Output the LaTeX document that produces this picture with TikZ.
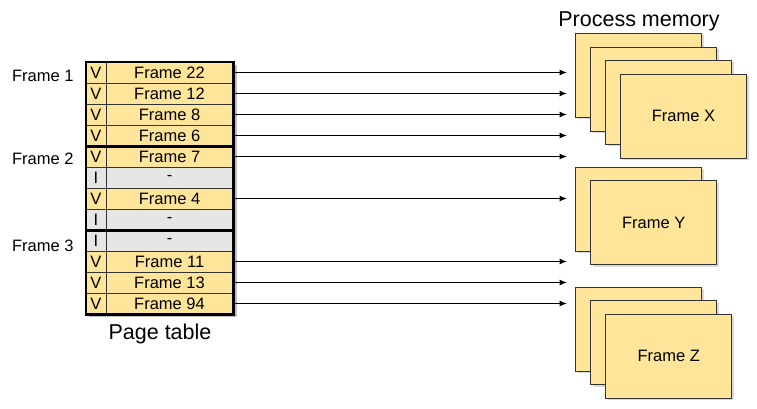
\documentclass[tikz,border=0pt]{standalone}
\usepackage{fontspec}
\setmainfont{Liberation Sans}
\usetikzlibrary{arrows.meta,shadows}
\definecolor{pageyellow}{HTML}{FFE599}
\definecolor{pagegray}{HTML}{E6E6E6}

\begin{document}
\begin{tikzpicture}[x=1pt,y=-1pt,
  font=\fontsize{16.5}{18}\selectfont,
  cell/.style={draw=black!80, line width=0.8pt, minimum height=21pt, inner sep=0pt},
  bitcell/.style={cell, minimum width=20pt},
  framecell/.style={cell, minimum width=127pt},
  memframe/.style={draw=black!80, line width=0.8pt, fill=pageyellow,
    minimum width=126pt, minimum height=84pt,
    drop shadow={shadow xshift=2pt, shadow yshift=-2pt, opacity=0.3}},
  maparrow/.style={-{Latex[length=7.5pt,width=6pt]}, line width=1pt},
  bigtext/.style={font=\fontsize{21.5}{24}\selectfont}
]
\useasboundingbox (0,0) rectangle (757,408);

% Page table
\fill[black!25] (89,65) rectangle (237,317);
\foreach \i/\bit/\txt/\col in {1/V/Frame 22/pageyellow, 2/V/Frame 12/pageyellow,
    3/V/Frame 8/pageyellow, 4/V/Frame 6/pageyellow, 5/V/Frame 7/pageyellow,
    6/I/-/pagegray, 7/V/Frame 4/pageyellow, 8/I/-/pagegray, 9/I/-/pagegray,
    10/V/Frame 11/pageyellow, 11/V/Frame 13/pageyellow, 12/V/Frame 94/pageyellow}
{
  \node[bitcell, fill=\col] (v\i) at (96,{51.5+21*\i}) {\bit};
  \node[framecell, fill=\col] (f\i) at (169.5,{51.5+21*\i}) {\txt};
}
\draw[line width=2.2pt] (v1.north west) rectangle (f4.south east);
\draw[line width=2.2pt] (v5.north west) rectangle (f8.south east);
\draw[line width=2.2pt] (v9.north west) rectangle (f12.south east);

% Labels
\node[anchor=base east] (g1) at (77,81.5) {Frame 1};
\node[anchor=base east] (g2) at (77,164.5) {Frame 2};
\node[anchor=base east] (g3) at (77,251) {Frame 3};
\node[bigtext, anchor=base] (ptable) at (160,339.5) {Page table};

% Process memory
\node[bigtext, anchor=base] (pmem) at (639,26) {Process memory};
\node[memframe] (x1) at (638.7,75.3) {};
\node[memframe] (x2) at (653.7,89) {};
\node[memframe] (x3) at (668.7,102.4) {};
\node[memframe] (x4) at (683.5,116) {Frame X};

\node[memframe] (y1) at (638.7,209) {};
\node[memframe] (y2) at (653.7,222.5) {Frame Y};

\node[memframe] (z1) at (638.7,329.2) {};
\node[memframe] (z2) at (653.7,342.7) {};
\node[memframe] (z3) at (668.7,356.3) {Frame Z};

% Arrows
\coordinate (tip) at (567,0);
\foreach \i in {1,2,3,4,5,7,10,11,12}
  \draw[maparrow] (f\i.east) -- (f\i.east -| tip);
\end{tikzpicture}
\end{document}
